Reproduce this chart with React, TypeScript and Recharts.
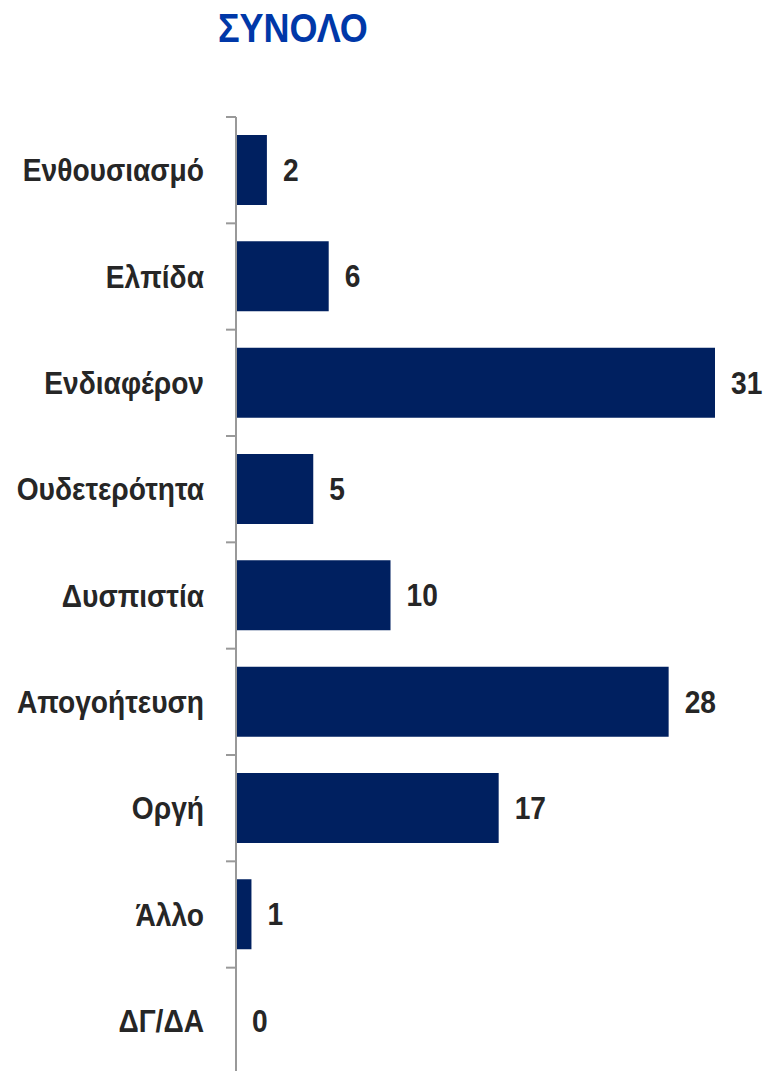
import React from "react";
import { BarChart, Bar, XAxis, YAxis, LabelList } from "recharts";

const categories = ["Ενθουσιασμό", "Ελπίδα", "Ενδιαφέρον", "Ουδετερότητα", "Δυσπιστία", "Απογοήτευση", "Οργή", "Άλλο", "ΔΓ/ΔΑ"];
const values = [2, 6, 31, 5, 10, 28, 17, 1, 0];
const title = "ΣΥΝΟΛΟ";

const data = categories.map((name, i) => ({ name, value: values[i] }));

const FONT = "'Liberation Sans', Arial, sans-serif";
const SX = 0.88;

const CustomTick = (props: any) => {
  const { x, y, payload } = props;
  const off = payload && typeof payload.offset === "number" ? payload.offset : 0;
  return (
    <g>
      <line x1={x - 10} x2={x} y1={y - off} y2={y - off} stroke="#999" strokeWidth={2} />
      <text transform={`translate(${x - 32},${y}) scale(${SX},1)`} x={0} y={0} textAnchor="end" dominantBaseline="central"
        fill="#262626" fontFamily={FONT} fontWeight="bold" fontSize={32}>
        {payload.value}
      </text>
    </g>
  );
};

const ValueLabel = (props: any) => {
  const { x, y, width, height, value } = props;
  const lx = Number(x) + Number(width || 0) + 16;
  const ly = Number(y) + Number(height) / 2;
  return (
    <text transform={`translate(${lx},${ly}) scale(${SX},1)`} x={0} y={0} textAnchor="start" dominantBaseline="central"
      fill="#262626" fontFamily={FONT} fontWeight="bold" fontSize={32}>
      {value}
    </text>
  );
};

export default function App() {
  return (
    <div style={{ position: "absolute", left: 0, top: 0, width: 766, height: 1071, overflow: "hidden", background: "#fff" }}>
      <div style={{ position: "absolute", left: 218, top: 6, fontFamily: FONT, fontWeight: "bold", fontSize: 40, color: "#0038a8", transform: "scaleX(0.9)", transformOrigin: "left top", whiteSpace: "nowrap" }}>{title}</div>
      <BarChart width={766} height={1080} data={data} layout="vertical" margin={{ top: 117, right: 51, bottom: 6, left: 0 }}>
        <XAxis type="number" domain={[0, 31]} hide />
        <YAxis type="category" dataKey="name" width={236} tickLine={false} tickSize={0} tickMargin={0}
          axisLine={{ stroke: "#999", strokeWidth: 2 }} tick={<CustomTick />} interval={0} />
        <Bar dataKey="value" fill="#002060" barSize={70} minPointSize={0.001} isAnimationActive={false}>
          <LabelList dataKey="value" content={<ValueLabel />} />
        </Bar>
      </BarChart>
    </div>
  );
}
